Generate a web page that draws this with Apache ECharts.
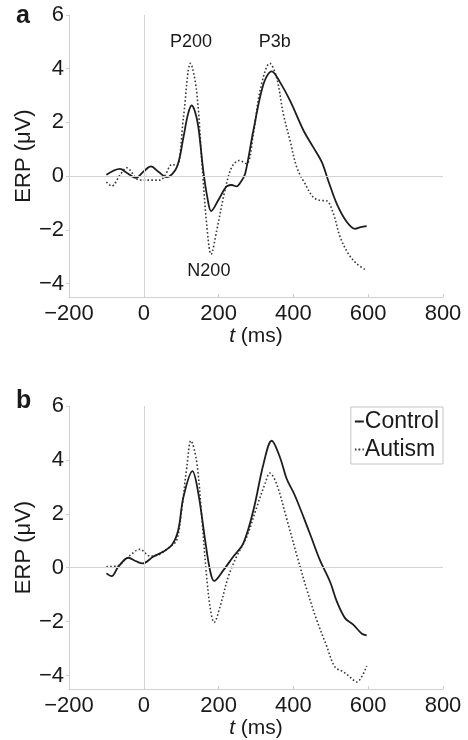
<!DOCTYPE html>
<html>
<head>
<meta charset="utf-8">
<script src="https://cdn.jsdelivr.net/npm/echarts@6/dist/echarts.min.js"></script>
<style>
html,body{margin:0;padding:0;background:#fff;}
#chart{width:468px;height:740px;}
</style>
</head>
<body>
<div id="chart"></div>
<script>
// ---- data (t in ms, ERP in µV) ----
const seriesNames = ['Control', 'Autism'];
const xTicks = [-200, 0, 200, 400, 600, 800];
const yTicks = [-4, -2, 0, 2, 4, 6];

const controlA = [[-100,0.05],[-64,0.27],[-45,0.12],[-21,-0.06],[0,0.18],[19,0.36],[40,0.15],[61,-0.04],[88,0.33],[106,1.45],[118,2.3],[128,2.63],[137,2.4],[146,1.82],[159,0.21],[170,-0.8],[180,-1.3],[199,-0.9],[215,-0.5],[222,-0.38],[235,-0.33],[248,-0.38],[260,-0.2],[271,0.09],[293,1.7],[320,3.43],[342,3.9],[364,3.5],[391,2.81],[427,1.7],[453,1.08],[476,0.52],[493,-0.16],[516,-1.03],[543,-1.71],[565,-1.96],[580,-1.9],[596,-1.86]];
const autismA = [[-100,-0.22],[-86,-0.37],[-64,0.03],[-46,0.31],[-19,-0.1],[-5,-0.15],[20,-0.15],[43,-0.15],[57,0.03],[75,0.43],[89,0.4],[106,2.19],[125,4.2],[141,3.19],[155,0.58],[168,-1.77],[180,-2.91],[195,-2.02],[217,-0.53],[235,0.33],[255,0.58],[275,0.46],[293,1.58],[311,3.19],[337,4.2],[355,3.68],[373,2.32],[391,1.33],[409,0.33],[431,-0.28],[453,-0.78],[471,-0.9],[489,-0.92],[507,-1.4],[525,-2.27],[547,-2.89],[569,-3.26],[591,-3.47]];
const controlB = [[-100,-0.21],[-86,-0.31],[-68,0.04],[-41,0.37],[-22,0.25],[-3,0.16],[25,0.41],[52,0.6],[75,0.84],[92,1.39],[106,2.62],[130,3.58],[146,2.74],[164,1.02],[177,-0.09],[188,-0.49],[213,-0.09],[239,0.41],[266,0.9],[293,2.13],[320,3.85],[342,4.71],[364,4.1],[382,3.3],[404,2.68],[444,1.27],[471,0.28],[498,-0.52],[516,-1.25],[538,-1.87],[560,-2.11],[583,-2.45],[596,-2.51]];
const autismB = [[-100,0.04],[-72,0.06],[-46,0.35],[-10,0.68],[17,0.43],[43,0.5],[70,0.78],[88,1.02],[101,2.13],[115,3.73],[126,4.71],[141,3.97],[155,1.88],[168,-0.33],[179,-1.62],[188,-2.03],[204,-1.44],[226,-0.33],[248,0.41],[275,1.14],[302,2.25],[324,3.11],[337,3.51],[355,3.11],[382,1.82],[409,0.47],[436,-0.82],[462,-1.93],[489,-2.91],[511,-3.68],[534,-3.87],[551,-4.05],[569,-4.24],[596,-3.65]];

const annotNames = ['P200', 'P3b', 'N200'];
const annotT = [126, 350, 174];
const annotV = [4.98, 4.98, -3.53];

// ---- styling ----
const FONT = '"Liberation Sans", Arial, Helvetica, sans-serif';
const AXIS_GRAY = '#cfcfcf';
const TXT = '#1a1a1a';
const fmtMinus = v => String(v).replace('-', '\u2212');

function xAxisFor(gi) {
  return {
    type: 'value', gridIndex: gi, min: -200, max: 800, interval: 200,
    axisLine: { show: true, onZero: false, lineStyle: { color: AXIS_GRAY, width: 1 } },
    axisTick: { show: true, inside: true, length: 3, lineStyle: { color: AXIS_GRAY } },
    splitLine: { show: false },
    axisLabel: { color: TXT, fontFamily: FONT, fontSize: 22, margin: 6, formatter: fmtMinus },
    name: '{i|t} (ms)', nameLocation: 'middle', nameGap: 29, nameMoveOverlap: false,
    nameTextStyle: { color: TXT, fontFamily: FONT, fontSize: 21,
      rich: { i: { fontStyle: 'italic', fontFamily: FONT, fontSize: 21, color: TXT } } }
  };
}
function yAxisFor(gi) {
  return {
    type: 'value', gridIndex: gi, min: -4.5, max: 6,
    axisLine: { show: true, onZero: false, lineStyle: { color: AXIS_GRAY, width: 1 } },
    axisTick: { show: true, length: 3, customValues: yTicks, lineStyle: { color: AXIS_GRAY } },
    splitLine: { show: false },
    axisLabel: { color: TXT, fontFamily: FONT, fontSize: 22, margin: 5, customValues: yTicks, formatter: fmtMinus },
    name: 'ERP (\u03bcV)', nameLocation: 'middle', nameGap: 34, nameRotate: 90, nameMoveOverlap: false,
    nameTextStyle: { color: TXT, fontFamily: FONT, fontSize: 22 }
  };
}

const zeroLines = {
  silent: true, symbol: 'none', animation: false,
  label: { show: false },
  lineStyle: { color: '#d4d4d4', width: 1, type: 'solid' },
  data: [{ xAxis: 0 }, { yAxis: 0 }]
};

const annotMarks = {
  symbol: 'rect', symbolSize: 1, animation: false,
  itemStyle: { color: 'rgba(0,0,0,0)' },
  label: { show: true, position: 'inside', color: TXT, fontFamily: FONT, fontSize: 18, formatter: p => p.name },
  data: annotNames.map((n, i) => ({ name: n, coord: [annotT[i], annotV[i]] }))
};

const solidStyle = { color: '#1e1e1e', width: 1.8, type: 'solid' };
const dottedStyle = { color: '#3a3a3a', width: 1.6, type: [1.6, 2.2] };

function lineSeries(name, data, gi, style, extra) {
  return Object.assign({
    type: 'line', name: name, xAxisIndex: gi, yAxisIndex: gi,
    data: data, smooth: 0.35, symbol: 'none', animation: false,
    lineStyle: style, itemStyle: { color: style.color }
  }, extra || {});
}

const chart = echarts.init(document.getElementById('chart'), null, { renderer: 'canvas' });
chart.setOption({
  backgroundColor: '#fff',
  animation: false,
  grid: [
    { left: 69, width: 374, top: 15, height: 282 },
    { left: 69, width: 374, top: 406, height: 284 }
  ],
  xAxis: [xAxisFor(0), xAxisFor(1)],
  yAxis: [yAxisFor(0), yAxisFor(1)],
  legend: {
    data: seriesNames, orient: 'vertical', right: 25, top: 407,
    itemWidth: 9, itemHeight: 2, itemGap: 5,
    padding: [3, 4, 3, 3],
    borderColor: '#c4c4c4', borderWidth: 1, backgroundColor: '#fff',
    textStyle: { color: TXT, fontFamily: FONT, fontSize: 23, padding: [0, 0, 0, -4] },
    selectedMode: false
  },
  graphic: [
    { type: 'text', left: 16, top: 4, style: { text: 'a', font: 'bold 25px ' + FONT, fill: TXT } },
    { type: 'text', left: 16, top: 389, style: { text: 'b', font: 'bold 25px ' + FONT, fill: TXT } }
  ],
  series: [
    lineSeries('Control', controlA, 0, solidStyle, { markLine: zeroLines, markPoint: annotMarks, z: 3 }),
    lineSeries('Autism', autismA, 0, dottedStyle, { z: 2 }),
    lineSeries('Control', controlB, 1, solidStyle, { markLine: zeroLines, z: 3 }),
    lineSeries('Autism', autismB, 1, dottedStyle, { z: 2 })
  ]
});
</script>
</body>
</html>
